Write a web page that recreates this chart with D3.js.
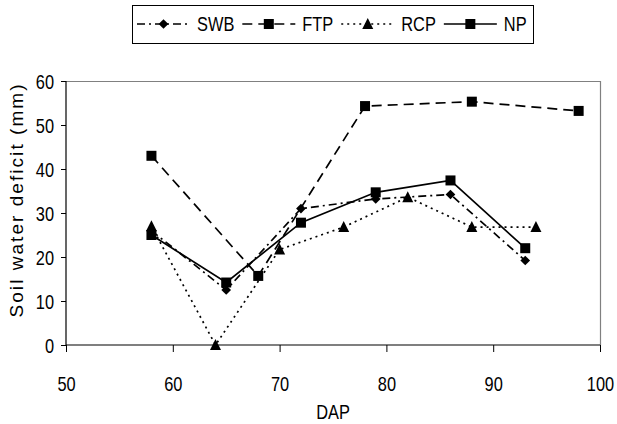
<!DOCTYPE html>
<html>
<head>
<meta charset="utf-8">
<script src="https://cdn.jsdelivr.net/npm/d3@7"></script>
<style>
  body { margin: 0; background: #fff; }
  svg { display: block; }
  text { font-family: "Liberation Sans", Arial, sans-serif; fill: #000; }
</style>
</head>
<body>
<svg id="chart" width="617" height="424"></svg>
<script>
// ---- data ----
const seriesNames = ["SWB", "FTP", "RCP", "NP"];
const swbDap = [58, 65, 72, 79, 86, 93];
const swbDeficit = [26, 12.5, 31, 33.2, 34.2, 19.2];
const ftpDap = [58, 68, 78, 88, 98];
const ftpDeficit = [43, 15.7, 54.3, 55.3, 53.2];
const rcpDap = [58, 64, 70, 76, 82, 88, 94];
const rcpDeficit = [27, 0, 21.7, 26.8, 33.6, 26.8, 26.8];
const npDap = [58, 65, 72, 79, 86, 93];
const npDeficit = [25, 14.2, 27.8, 34.7, 37.4, 22];
const xTicks = [50, 60, 70, 80, 90, 100];
const yTicks = [0, 10, 20, 30, 40, 50, 60];
const xTitle = "DAP";
const yTitle = "Soil water deficit (mm)";

(function () {
const styles = {
  SWB: { dash: "8,4,2,4", marker: "diamond" },
  FTP: { dash: "10,6", marker: "square" },
  RCP: { dash: "2,4", marker: "triangle" },
  NP:  { dash: null, marker: "square" }
};
const seriesData = {
  SWB: swbDap.map((d, i) => ({ x: d, y: swbDeficit[i] })),
  FTP: ftpDap.map((d, i) => ({ x: d, y: ftpDeficit[i] })),
  RCP: rcpDap.map((d, i) => ({ x: d, y: rcpDeficit[i] })),
  NP:  npDap.map((d, i) => ({ x: d, y: npDeficit[i] }))
};
const SX = 0.82;   // narrow text look
const FS = 20;

const svg = d3.select("#chart");
const pL = 66, pR = 600, pT = 81, pB = 345;
const x = d3.scaleLinear().domain([50, 100]).range([pL, pR]);
const y = d3.scaleLinear().domain([0, 60]).range([pB, pT]);

// plot frame (top/right gray)
svg.append("line").attr("x1", pL).attr("x2", pR).attr("y1", pT + 0.5).attr("y2", pT + 0.5)
  .attr("stroke", "#808080").attr("stroke-width", 1.2);
svg.append("line").attr("x1", pR + 0.5).attr("x2", pR + 0.5).attr("y1", pT).attr("y2", pB)
  .attr("stroke", "#808080").attr("stroke-width", 1.2);

// axes
const xAxis = d3.axisBottom(x).tickValues(xTicks).tickSize(7).tickFormat(d3.format("d"));
const yAxis = d3.axisLeft(y).tickValues(yTicks).tickSize(5).tickFormat(d3.format("d"));
const gx = svg.append("g").attr("transform", `translate(0,${pB})`).call(xAxis);
const gy = svg.append("g").attr("transform", `translate(${pL},0)`).call(yAxis);
[gx, gy].forEach(g => {
  g.select(".domain").attr("stroke", "#000").attr("stroke-width", 1.2);
  g.selectAll(".tick line").attr("stroke", "#000").attr("stroke-width", 1);
  g.selectAll(".tick text").attr("font-size", FS).attr("fill", "#000")
    .style("font-family", '"Liberation Sans", Arial, sans-serif');
});
gx.selectAll(".tick text").attr("x", 0).attr("y", 0).attr("dy", null)
  .attr("transform", `translate(0,46) scale(${SX},1)`);
gy.selectAll(".tick text").attr("x", 0).attr("dy", "0.36em")
  .attr("transform", `translate(-12,0) scale(${SX},1)`);
gy.select(".domain").attr("d", `M0,${pB}V${pT}`);
gx.select(".domain").attr("d", `M${pL},0H${pR}`);

// titles
svg.append("text").attr("transform", `translate(${(pL + pR) / 2},419) scale(${SX},1)`)
  .attr("text-anchor", "middle").attr("font-size", FS).text(xTitle);
svg.append("text").attr("transform", "translate(23,201) rotate(-90)").attr("text-anchor", "middle")
  .attr("font-size", 19).attr("textLength", 233).attr("lengthAdjust", "spacing").text(yTitle);

function drawMarker(g, type, cx, cy) {
  if (type === "diamond") {
    g.append("path").attr("d", d3.symbol(d3.symbolDiamond2, 60)()).attr("transform", `translate(${cx},${cy})`).attr("fill", "#000");
  } else if (type === "square") {
    g.append("rect").attr("x", cx - 5).attr("y", cy - 5).attr("width", 10).attr("height", 10).attr("fill", "#000");
  } else if (type === "triangle") {
    g.append("path").attr("d", `M${cx},${cy - 6}L${cx + 5.5},${cy + 5}L${cx - 5.5},${cy + 5}Z`).attr("fill", "#000");
  }
}

const line = d3.line().x(d => x(d.x)).y(d => y(d.y));
const plot = svg.append("g");
["RCP", "FTP", "SWB", "NP"].forEach(name => {
  plot.append("path").datum(seriesData[name]).attr("d", line)
    .attr("fill", "none").attr("stroke", "#000").attr("stroke-width", 1.7)
    .attr("stroke-dasharray", styles[name].dash);
});
["RCP", "FTP", "SWB", "NP"].forEach(name => {
  const g = plot.append("g");
  seriesData[name].forEach(d => drawMarker(g, styles[name].marker, x(d.x), y(d.y)));
});

// legend
const lg = svg.append("g");
const ly = 24;
let cursor = 137;
const lineLen = 53;
seriesNames.forEach(name => {
  const st = styles[name];
  const x0 = cursor;
  lg.append("line").attr("x1", x0).attr("x2", x0 + lineLen).attr("y1", ly).attr("y2", ly)
    .attr("stroke", "#000").attr("stroke-width", 1.7).attr("stroke-dasharray", st.dash);
  drawMarker(lg, st.marker, x0 + lineLen / 2, ly);
  const t = lg.append("text").attr("transform", `translate(${x0 + lineLen + 7},${ly + 7}) scale(${SX},1)`)
    .attr("font-size", FS).text(name);
  const w = t.node().getComputedTextLength() * SX;
  cursor = x0 + lineLen + 7 + w + 8;
});
lg.insert("rect", ":first-child").attr("x", 132.5).attr("y", 5.5).attr("width", 533 - 132).attr("height", 38)
  .attr("fill", "#fff").attr("stroke", "#000").attr("stroke-width", 1);
})();
</script>
</body>
</html>
